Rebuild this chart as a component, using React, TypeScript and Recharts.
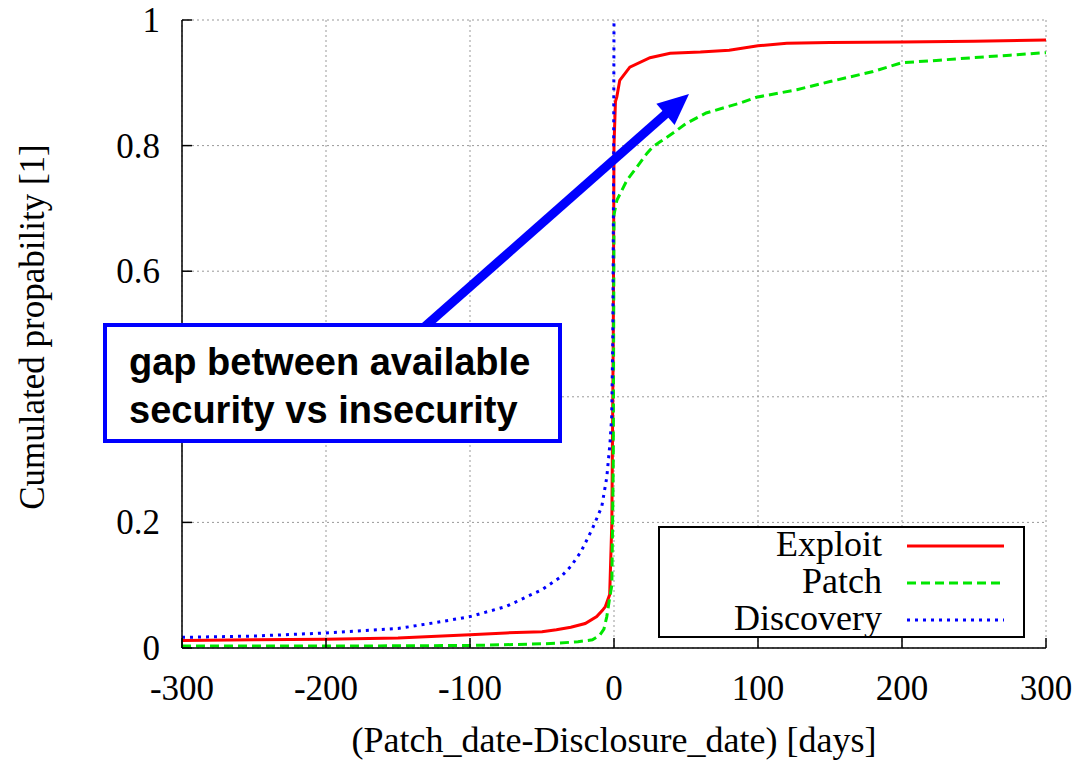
import React from "react";
import { LineChart, Line, XAxis, YAxis, CartesianGrid, Label } from "recharts";

// ---- data ----
const seriesNames = ["Exploit", "Patch", "Discovery"];
const seriesColors = ["#ff0000", "#00e600", "#0000ff"];
const seriesDash = ["", "9 5", "3 5"];

const exploitDays = [-300, -250, -200, -150, -100, -75, -50, -40, -30, -20, -12, -8, -6, -3, -1.5, -0.5, 0, 1, 2, 4, 11, 25, 39, 60, 80, 100, 120, 150, 200, 250, 300];
const exploitProb = [0.012, 0.013, 0.014, 0.016, 0.021, 0.024, 0.026, 0.029, 0.033, 0.039, 0.05, 0.06, 0.066, 0.085, 0.2, 0.5, 0.8, 0.87, 0.878, 0.904, 0.925, 0.94, 0.947, 0.949, 0.952, 0.959, 0.963, 0.964, 0.965, 0.966, 0.968];

const patchDays = [-300, -200, -100, -60, -40, -25, -15, -10, -7, -5, -3, -1.5, -0.5, 0, 2, 9, 16, 23, 27, 32, 41, 50, 64, 88, 99, 127, 150, 180, 200, 226, 249, 275, 300];
const patchProb = [0.003, 0.003, 0.004, 0.006, 0.0075, 0.01, 0.013, 0.02, 0.03, 0.05, 0.08, 0.1, 0.3, 0.69, 0.713, 0.745, 0.766, 0.788, 0.798, 0.806, 0.82, 0.835, 0.852, 0.868, 0.877, 0.889, 0.902, 0.918, 0.932, 0.936, 0.94, 0.944, 0.948];

const discoveryDays = [-300, -250, -200, -150, -125, -100, -75, -50, -37, -30, -23, -15, -8.5, -5, -2.8, -1.6, -0.8, -0.3, 0];
const discoveryProb = [0.017, 0.019, 0.024, 0.031, 0.04, 0.05, 0.066, 0.093, 0.113, 0.13, 0.153, 0.19, 0.225, 0.272, 0.326, 0.368, 0.5, 0.75, 1];

const xTicks = [-300, -200, -100, 0, 100, 200, 300];
const yTicks = [0, 0.2, 0.4, 0.6, 0.8, 1];
// the 0.4 label is hidden behind the annotation box in the reference
const yTickLabels = ["0", "0.2", "", "0.6", "0.8", "1"];

const xTitle = "(Patch_date-Disclosure_date) [days]";
const yTitle = "Cumulated propability [1]";
const noteLines = ["gap between available", "security vs insecurity"];
// arrow in data coordinates: tail, tip
const arrowTail = { d: -133.6, p: 0.517 };
const arrowTip = { d: 52.1, p: 0.882 };

const toRows = (days: number[], probs: number[]) => days.map((d, i) => ({ d, p: probs[i] }));
const seriesData = [
  toRows(exploitDays, exploitProb),
  toRows(patchDays, patchProb),
  toRows(discoveryDays, discoveryProb),
];

// ---- layout ----
const W = 1076;
const H = 761;
const PL = 182, PR = 1046, PT = 20, PB = 648;
const SERIF = "'Liberation Serif', 'Times New Roman', serif";
const SANS = "'Liberation Sans', Arial, sans-serif";
const px = (d: number) => PL + ((d + 300) / 600) * (PR - PL);
const py = (p: number) => PB - p * (PB - PT);

const BottomTick = (props: any) => {
  const { x, y, payload } = props;
  return (
    <g>
      <line x1={x} y1={y} x2={x} y2={y - 10} stroke="#000" strokeWidth={1.5} />
      <text x={x} y={y + 52} textAnchor="middle" fontFamily={SERIF} fontSize={35} fill="#000">
        {payload.value}
      </text>
    </g>
  );
};
const TopTick = (props: any) => {
  const { x, y } = props;
  return <line x1={x} y1={y} x2={x} y2={y + 10} stroke="#000" strokeWidth={1.5} />;
};
const LeftTick = (props: any) => {
  const { x, y, payload, index } = props;
  const i = yTicks.indexOf(payload.value);
  const label = yTickLabels[i >= 0 ? i : index];
  return (
    <g>
      <line x1={x} y1={y} x2={x + 10} y2={y} stroke="#000" strokeWidth={1.5} />
      {label ? (
        <text x={x - 22} y={y + 12} textAnchor="end" fontFamily={SERIF} fontSize={35} fill="#000">
          {label}
        </text>
      ) : null}
    </g>
  );
};
const RightTick = (props: any) => {
  const { x, y } = props;
  return <line x1={x} y1={y} x2={x - 10} y2={y} stroke="#000" strokeWidth={1.5} />;
};

const Arrow = () => {
  const x1 = px(arrowTail.d), y1 = py(arrowTail.p);
  const x2 = px(arrowTip.d), y2 = py(arrowTip.p);
  const dx = x2 - x1, dy = y2 - y1;
  const len = Math.sqrt(dx * dx + dy * dy);
  const ux = dx / len, uy = dy / len;
  const nx = -uy, ny = ux;
  const L = 31, hw = 14;
  const bx = x2 - L * ux, by = y2 - L * uy;
  return (
    <svg width={W} height={H} style={{ position: "absolute", left: 0, top: 0, pointerEvents: "none" }}>
      <line x1={x1} y1={y1 + 6} x2={bx + ux * 2} y2={by + uy * 2} stroke="#0000ff" strokeWidth={9} />
      <polygon
        points={`${x2},${y2} ${bx + hw * nx},${by + hw * ny} ${bx - hw * nx},${by - hw * ny}`}
        fill="#0000ff"
      />
    </svg>
  );
};

export default function App() {
  return (
    <div style={{ position: "absolute", left: 0, top: 0, width: W, height: H, background: "#fff", overflow: "hidden" }}>
      <LineChart width={W} height={H} margin={{ top: PT, right: W - PR, bottom: 0, left: 0 }}>
        <CartesianGrid stroke="#999" strokeDasharray="2 3" strokeWidth={1} />
        <XAxis
          dataKey="d"
          type="number"
          domain={[-300, 300]}
          ticks={xTicks}
          allowDataOverflow
          height={H - PB}
          tickSize={0}
          tickMargin={0}
          tick={<BottomTick />}
          axisLine={{ stroke: "#000", strokeWidth: 1.5 }}
          interval={0}
        >
          <Label
            content={(p: any) => {
              const vb = p.viewBox || { x: PL, y: PB, width: PR - PL };
              return (
                <text x={vb.x + vb.width / 2} y={vb.y + 104} textAnchor="middle" fontFamily={SERIF} fontSize={36} fill="#000">
                  {xTitle}
                </text>
              );
            }}
          />
        </XAxis>
        <XAxis
          xAxisId="top"
          orientation="top"
          dataKey="d"
          type="number"
          domain={[-300, 300]}
          ticks={xTicks}
          height={0}
          tickSize={0}
          tickMargin={0}
          tick={<TopTick />}
          axisLine={{ stroke: "#000", strokeWidth: 1.5 }}
          interval={0}
        />
        <YAxis
          type="number"
          domain={[0, 1]}
          ticks={yTicks}
          width={PL}
          tickSize={0}
          tickMargin={0}
          tick={<LeftTick />}
          axisLine={{ stroke: "#000", strokeWidth: 1.5 }}
          interval={0}
        >
          <Label
            content={() => (
              <text
                x={44}
                y={327}
                transform="rotate(-90 44 327)"
                textAnchor="middle"
                fontFamily={SERIF}
                fontSize={35}
                fill="#000"
              >
                {yTitle}
              </text>
            )}
          />
        </YAxis>
        <YAxis
          yAxisId="right"
          orientation="right"
          type="number"
          domain={[0, 1]}
          ticks={yTicks}
          width={0}
          tickSize={0}
          tickMargin={0}
          tick={<RightTick />}
          axisLine={{ stroke: "#000", strokeWidth: 1.5 }}
          interval={0}
        />
        {seriesData.map((data, i) => (
          <Line
            key={seriesNames[i]}
            data={data}
            dataKey="p"
            name={seriesNames[i]}
            type="linear"
            stroke={seriesColors[i]}
            strokeWidth={3}
            strokeDasharray={seriesDash[i] || undefined}
            dot={false}
            activeDot={false}
            isAnimationActive={false}
          />
        ))}
      </LineChart>

      {/* legend */}
      <div
        style={{
          position: "absolute",
          left: 658,
          top: 526,
          width: 367,
          height: 112,
          boxSizing: "border-box",
          border: "2px solid #000",
          background: "#fff",
        }}
      >
        {seriesNames.map((n, i) => (
          <div key={n} style={{ position: "absolute", left: 0, top: 1 + i * 37, height: 37, width: 363 }}>
            <span
              style={{
                position: "absolute",
                right: 363 - 222,
                top: -3,
                fontFamily: SERIF,
                fontSize: 36,
                lineHeight: "37px",
                whiteSpace: "nowrap",
              }}
            >
              {n}
            </span>
            <svg width={100} height={37} style={{ position: "absolute", left: 245, top: 0 }}>
              <line
                x1={2}
                y1={17}
                x2={99}
                y2={17}
                stroke={seriesColors[i]}
                strokeWidth={3}
                strokeDasharray={seriesDash[i] || undefined}
              />
            </svg>
          </div>
        ))}
      </div>

      <Arrow />

      {/* annotation */}
      <div
        style={{
          position: "absolute",
          left: 103,
          top: 323,
          width: 459,
          height: 120,
          boxSizing: "border-box",
          border: "4px solid #0000ff",
          background: "#fff",
          paddingLeft: 22,
          paddingTop: 11,
          fontFamily: SANS,
          fontWeight: "bold",
          fontSize: 38,
          lineHeight: "48px",
          color: "#000",
          whiteSpace: "nowrap",
        }}
      >
        {noteLines.map((l) => (
          <div key={l}>{l}</div>
        ))}
      </div>
    </div>
  );
}
